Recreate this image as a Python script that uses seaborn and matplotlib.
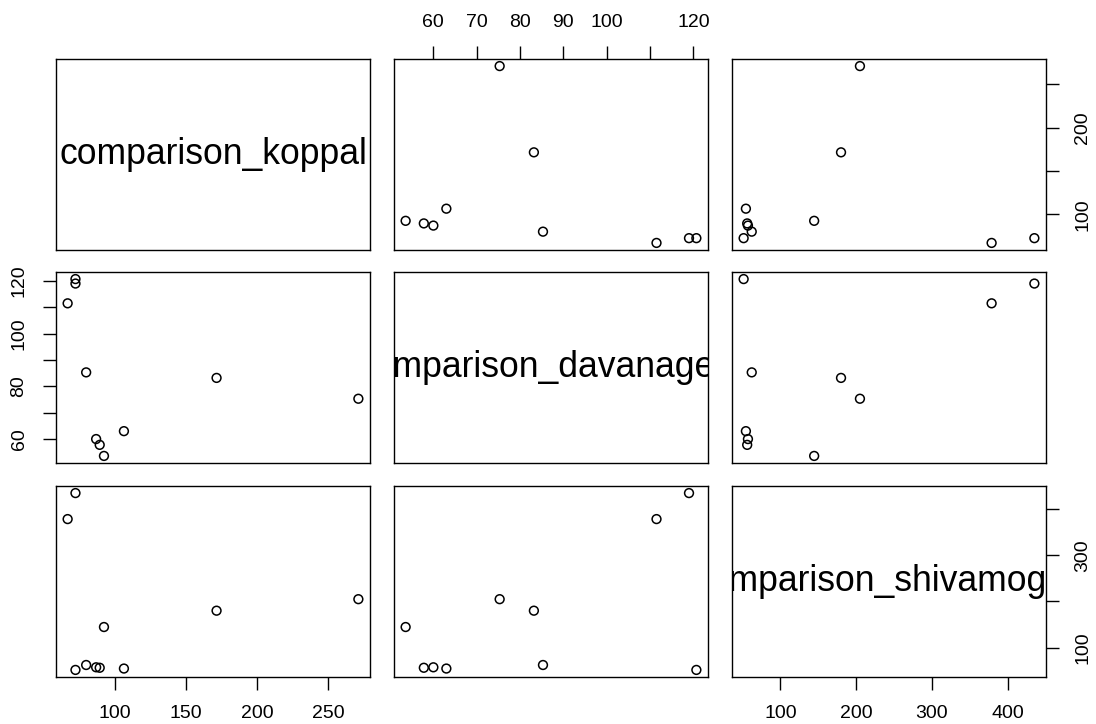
import matplotlib
matplotlib.use("Agg")
import matplotlib.pyplot as plt
import pandas as pd
import seaborn as sns

# Monthly comparison values for three districts
koppal = [67, 72.5, 72.5, 80, 87, 89.5, 92.5, 106.5, 171.5, 271]
davanagere = [111.5, 119, 120.7, 85.3, 60, 57.8, 53.6, 63, 83.2, 75.3]
shivamogga = [379, 435.5, 51.3, 62, 57, 56, 144.5, 54.3, 180, 205]

names = ["comparison_koppal", "comparison_davanagere", "comparison_shivamogga"]

# Tick positions for each variable and the labels that are printed on each side
tick_pos = {
    "comparison_koppal": [100, 150, 200, 250],
    "comparison_davanagere": [60, 70, 80, 90, 100, 110, 120],
    "comparison_shivamogga": [100, 200, 300, 400],
}
bottom_labels = {
    "comparison_koppal": [100, 150, 200, 250],
    "comparison_shivamogga": [100, 200, 300, 400],
}
top_labels = {"comparison_davanagere": [60, 70, 80, 90, 100, 120]}
left_labels = {"comparison_davanagere": [60, 80, 100, 120]}
right_labels = {
    "comparison_koppal": [100, 200],
    "comparison_shivamogga": [100, 300],
}

df = pd.DataFrame({
    names[0]: koppal,
    names[1]: davanagere,
    names[2]: shivamogga,
})

sns.set_style("white")
plt.rcParams["font.family"] = ["Liberation Sans", "DejaVu Sans"]

W, H = 1096, 724
fig = plt.figure(figsize=(W / 100, H / 100), dpi=100)

col_x = [56, 394, 732]
row_y = [59, 272, 486]
pw, ph = 314, 191


def padded(vals):
    lo, hi = min(vals), max(vals)
    r = hi - lo
    return lo - 0.04 * r, hi + 0.04 * r


tick_kw = dict(direction="out", length=9.5, width=1.0, color="black",
               labelsize=14, labelcolor="black", pad=11)


def set_axis_ticks(axis, ticks, labelled):
    major = [t for t in ticks if t in labelled]
    minor = [t for t in ticks if t not in labelled]
    axis.set_ticks(major)
    axis.set_ticks(minor, minor=True)
    axis.set_ticklabels([str(t) for t in major])


for i, yname in enumerate(names):
    for j, xname in enumerate(names):
        rect = [col_x[j] / W, 1 - (row_y[i] + ph) / H, pw / W, ph / H]
        ax = fig.add_axes(rect)
        ax.set_xlim(padded(df[xname]))
        ax.set_ylim(padded(df[yname]))
        if i == j:
            ax.text(0.5, 0.5, xname, transform=ax.transAxes, ha="center",
                    va="center", fontsize=25.6, color="black", clip_on=True)
        else:
            sns.scatterplot(data=df, x=xname, y=yname, ax=ax, marker="o",
                            s=40, legend=False)
            pts = ax.collections[-1]
            pts.set_facecolor("none")
            pts.set_edgecolor("black")
            pts.set_linewidth(1.1)
        ax.set_xlabel("")
        ax.set_ylabel("")
        for sp in ax.spines.values():
            sp.set_visible(True)
            sp.set_color("black")
            sp.set_linewidth(1.0)

        ax.tick_params(axis="both", which="both", bottom=False, top=False,
                       left=False, right=False, labelbottom=False,
                       labeltop=False, labelleft=False, labelright=False)
        ax.set_xticks([])
        ax.set_yticks([])

        if i == 2 and xname in bottom_labels:
            set_axis_ticks(ax.xaxis, tick_pos[xname], bottom_labels[xname])
            ax.tick_params(axis="x", which="both", bottom=True,
                           labelbottom=True, **tick_kw)
        if i == 0 and xname in top_labels:
            set_axis_ticks(ax.xaxis, tick_pos[xname], top_labels[xname])
            ax.tick_params(axis="x", which="both", top=True, labeltop=True,
                           **tick_kw)
        if j == 0 and yname in left_labels:
            set_axis_ticks(ax.yaxis, tick_pos[yname], left_labels[yname])
            ax.tick_params(axis="y", which="both", left=True,
                           labelleft=True, labelrotation=90, **tick_kw)
            for lab in ax.get_yticklabels():
                lab.set_va("center")
        if j == 2 and yname in right_labels:
            set_axis_ticks(ax.yaxis, tick_pos[yname], right_labels[yname])
            ax.tick_params(axis="y", which="both", right=True,
                           labelright=True, labelrotation=90, **tick_kw)
            for lab in ax.get_yticklabels():
                lab.set_va("center")

fig.savefig("out.png", dpi=100, facecolor="white")
